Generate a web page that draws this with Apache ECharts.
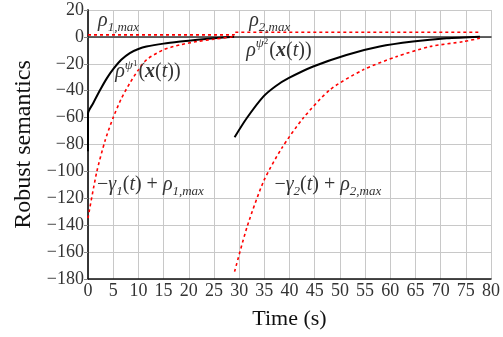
<!DOCTYPE html>
<html>
<head>
<meta charset="utf-8">
<script src="https://cdn.jsdelivr.net/npm/echarts@6/dist/echarts.min.js"></script>
<style>
  html, body { margin: 0; padding: 0; background: #fff; }
  #main { width: 503px; height: 337px; }
</style>
</head>
<body>
<div id="main"></div>
<script>
// time (s) / robust semantics value pairs
var robust1 = [[0, -85], [0, -57], [1, -49.5], [2.4, -39.5], [3.7, -31], [5, -24], [6.6, -17], [8.3, -12], [10, -9], [11.6, -7.2], [15, -5], [18.3, -3.5], [21.7, -2.2], [25, -1], [29, 0.2]];
var bound1 = [[0, -134.7], [1.7, -101], [3.4, -77], [5, -60], [6.6, -46], [8.3, -34.4], [10, -24.5], [11.6, -17], [14.9, -9.7], [18.3, -5.9], [21.7, -3.4], [25, -1.7], [29, 0.2]];
var robust2 = [[29.1, -74.6], [31.5, -60.5], [34.8, -44.4], [37.3, -36.5], [39.8, -30.7], [44.7, -22], [51.3, -13.4], [57.9, -7.2], [64.5, -3.5], [71.2, -1], [77.8, 0.2]];
var bound2 = [[29.1, -174.5], [31.6, -141], [34.9, -107], [38.5, -82.5], [42.7, -60.5], [48, -39.4], [54.6, -24.5], [61.3, -14.6], [67.9, -7.2], [74.5, -3.5], [77.8, -1]];
var rhoMax = [[0, 1.5], [29, 1.5], [29, 3.5], [78, 3.5]];

// annotation anchors (data coords, left edge of text)
var notes = [
  { text: '{m|ρ}{sub|1,max}', coord: [2, 12] },
  { text: '{m|ρ}{sub|2,max}', coord: [32, 12] },
  { text: '{m|ρ}{sup|ψ}{ss|1}{r|(}{b|x}{r|(}{m|t}{r|))}', coord: [5.4, -26] },
  { text: '{m|ρ}{sup|ψ}{ss|2}{r|(}{b|x}{r|(}{m|t}{r|))}', coord: [31.4, -10] },
  { text: '{r|−}{m|γ}{sub|1}{r|(}{m|t}{r|) + }{m|ρ}{sub|1,max}', coord: [1.8, -110] },
  { text: '{r|−}{m|γ}{sub|2}{r|(}{m|t}{r|) + }{m|ρ}{sub|2,max}', coord: [37, -110] }
];

var serif = 'Liberation Serif';
var textColor = '#333';

var chart = echarts.init(document.getElementById('main'), null, { renderer: 'canvas' });

function minus(v) { return String(v).replace('-', '−'); }

var option = {
  animation: false,
  grid: { left: 88, right: 12, top: 10, bottom: 58 },
  xAxis: [
    {
      type: 'value', min: 0, max: 80, interval: 5,
      name: 'Time (s)', nameLocation: 'middle', nameGap: 29,
      nameTextStyle: { fontFamily: serif, fontSize: 22, color: '#111' },
      axisLine: { onZero: false, lineStyle: { color: '#111', width: 1.5 } },
      axisTick: { show: false },
      axisLabel: { fontFamily: serif, fontSize: 18, color: textColor, margin: 3 },
      splitLine: { lineStyle: { color: '#c8c8c8', width: 1 } }
    },
    {
      type: 'value', position: 'top', min: 0, max: 80, interval: 5,
      axisLine: { lineStyle: { color: '#333', width: 1.5 } },
      axisTick: { show: false }, axisLabel: { show: false }, splitLine: { show: false }
    }
  ],
  yAxis: [
    {
      type: 'value', min: -180, max: 20, interval: 20,
      name: 'Robust semantics', nameLocation: 'middle', nameGap: 52,
      nameTextStyle: { fontFamily: serif, fontSize: 24, color: '#111' },
      axisLine: { show: true, onZero: false, lineStyle: { color: '#111', width: 1.5 } },
      axisTick: { show: false },
      axisLabel: { fontFamily: serif, fontSize: 18, color: textColor, margin: 4, formatter: minus },
      splitLine: { lineStyle: { color: '#c8c8c8', width: 1 } }
    },
    {
      type: 'value', position: 'right', min: -180, max: 20, interval: 20,
      axisLine: { show: true, lineStyle: { color: '#333', width: 1.5 } },
      axisTick: { show: true, inside: true, length: 4, lineStyle: { color: '#888' } },
      axisLabel: { show: false }, splitLine: { show: false }
    }
  ],
  series: [
    {
      type: 'line', data: robust1, smooth: 0.25, symbol: 'none',
      lineStyle: { color: '#000', width: 2 },
      markPoint: {
        symbol: 'circle', symbolSize: 0, silent: true,
        label: {
          show: true, position: 'right', distance: 0, color: textColor,
          formatter: function (p) { return p.data.name; },
          rich: {
            m: { fontFamily: serif, fontStyle: 'italic', fontSize: 20, color: textColor, lineHeight: 26 },
            r: { fontFamily: serif, fontSize: 20, color: textColor, lineHeight: 26 },
            b: { fontFamily: serif, fontStyle: 'italic', fontWeight: 'bold', fontSize: 20, color: textColor, lineHeight: 26 },
            sub: { fontFamily: serif, fontStyle: 'italic', fontSize: 13, color: textColor, verticalAlign: 'bottom', lineHeight: 26, padding: [9, 0, 0, 0] },
            sup: { fontFamily: serif, fontStyle: 'italic', fontSize: 13, color: textColor, verticalAlign: 'top', lineHeight: 26, padding: [0, 0, 9, 0] },
            ss: { fontFamily: serif, fontSize: 9, color: textColor, verticalAlign: 'top', lineHeight: 26, padding: [0, 1, 3, 0] }
          }
        },
        data: notes.map(function (n) { return { name: n.text, coord: n.coord }; })
      }
    },
    {
      type: 'line', data: robust2, smooth: 0.25, symbol: 'none',
      lineStyle: { color: '#000', width: 2 }
    },
    {
      type: 'line', data: bound1, smooth: 0.25, symbol: 'none',
      lineStyle: { color: '#ff0000', width: 1.6, type: [3, 3] }
    },
    {
      type: 'line', data: bound2, smooth: 0.25, symbol: 'none',
      lineStyle: { color: '#ff0000', width: 1.6, type: [3, 3] }
    },
    {
      type: 'line', data: rhoMax, symbol: 'none',
      lineStyle: { color: '#ff0000', width: 1.6, type: [3, 3] }
    }
  ]
};

chart.setOption(option);
</script>
</body>
</html>
